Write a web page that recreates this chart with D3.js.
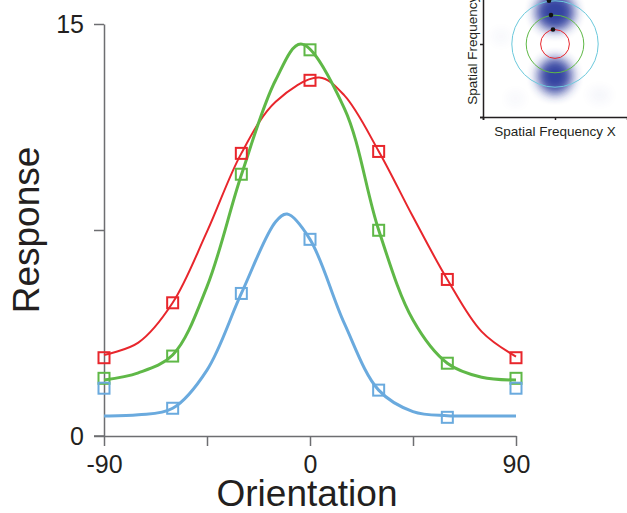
<!DOCTYPE html>
<html>
<head>
<meta charset="utf-8">
<script src="https://cdn.jsdelivr.net/npm/d3@7"></script>
<style>
  body { margin: 0; background: #fff; }
  svg { display: block; }
  text { font-family: "Liberation Sans", Arial, sans-serif; fill: #231f20; }
</style>
</head>
<body>
<div id="chart"></div>
<script>
// measured responses (squares), one per orientation
var orientations = [-90, -60, -30, 0, 30, 60, 90];
var redData   = [2.85, 4.85, 10.29, 12.95, 10.36, 5.70, 2.85];
var greenData = [2.10, 2.91, 9.53, 14.06, 7.49, 2.65, 2.10];
var blueData  = [1.74, 1.01, 5.19, 7.16, 1.67, 0.68, 1.74];

// fitted curves as [orientation, response]
var redFit = [[-90, 2.95], [-75, 3.4], [-60, 4.85], [-45, 7.44], [-30, 10.29], [-15, 12.17],
  [4, 13.05], [15, 12.4], [30, 10.37], [45, 7.98], [60, 5.70], [75, 3.80], [90, 2.89]];
var greenFit = [[-90, 2.04], [-75, 2.3], [-60, 2.95], [-45, 5.44], [-30, 9.50], [-15, 12.96],
  [-4, 14.27], [15, 11.93], [30, 7.50], [45, 4.22], [60, 2.65], [75, 2.14], [90, 2.04]];
var blueFit = [[-90, 0.73], [-75, 0.77], [-60, 1.01], [-45, 2.40], [-30, 5.19], [-15, 7.80],
  [-10, 8.08], [0, 7.16], [15, 4.10], [30, 1.67], [45, 0.89], [60, 0.74], [75, 0.73], [90, 0.73]];

var xTicks = [-90, -45, 0, 45, 90];
var xTickLabels = ["-90", "", "0", "", "90"];
var yTicks = [0, 7.5, 15];
var yTickLabels = ["0", "", "15"];

// inset: ring radii, dot tilt (deg from vertical), spectrum blobs [fx, fy, rx, ry, opacity]
var ringRadii = [0.2, 0.4, 0.6];
var dotTilt = 8;
var blobs = [[0, 0.44, 0.27, 0.26, 0.95], [0, -0.44, 0.24, 0.25, 0.95],
  [-0.75, 0.1, 0.12, 0.1, 0.04], [0.62, -0.7, 0.15, 0.1, 0.05], [-0.55, -0.75, 0.12, 0.1, 0.04]];

var series = [
  { data: redData, fit: redFit, color: "#e8262c", width: 2 },
  { data: greenData, fit: greenFit, color: "#5fb847", width: 3 },
  { data: blueData, fit: blueFit, color: "#6aaade", width: 3 }
];

var W = 627, H = 513;
var svg = d3.select("#chart").append("svg").attr("width", W).attr("height", H);

var x = d3.scaleLinear().domain([-90, 90]).range([104, 516]);
var y = d3.scaleLinear().domain([0, 15]).range([436, 24]);

// inset
var defs = svg.append("defs");
defs.append("clipPath").attr("id", "insetClip")
  .append("rect").attr("x", 484).attr("y", 0).attr("width", 143).attr("height", 116);
var blur = defs.append("filter").attr("id", "soft")
  .attr("x", "-60%").attr("y", "-60%").attr("width", "220%").attr("height", "220%");
blur.append("feGaussianBlur").attr("stdDeviation", 5.5);

var fx = d3.scaleLinear().domain([-1, 1]).range([483, 627]);
var fy = d3.scaleLinear().domain([-1, 1]).range([117, -29]);
var unit = fx(1) - fx(0);

var inset = svg.append("g").attr("clip-path", "url(#insetClip)");
inset.selectAll("ellipse").data(blobs).enter().append("ellipse")
  .attr("cx", function (d) { return fx(d[0]); })
  .attr("cy", function (d) { return fy(d[1]); })
  .attr("rx", function (d) { return d[2] * unit; })
  .attr("ry", function (d) { return d[3] * unit; })
  .attr("fill", "#2b3a9c")
  .attr("opacity", function (d) { return d[4]; })
  .attr("filter", "url(#soft)");

var ringColors = ["#e8262c", "#5fb847", "#6cc9dc"];
inset.selectAll("circle.ring").data(ringRadii).enter().append("circle")
  .attr("class", "ring")
  .attr("cx", fx(0)).attr("cy", fy(0))
  .attr("r", function (d) { return d * unit; })
  .attr("fill", "none")
  .attr("stroke", function (d, i) { return ringColors[i]; })
  .attr("stroke-width", 1);

var tilt = dotTilt * Math.PI / 180;
inset.selectAll("circle.dot").data(ringRadii).enter().append("circle")
  .attr("class", "dot")
  .attr("cx", function (d) { return fx(-d * Math.sin(tilt)); })
  .attr("cy", function (d) { return fy(d * Math.cos(tilt)); })
  .attr("r", 2.3)
  .attr("fill", "#111");

var insetAxisX = svg.append("g").attr("transform", "translate(0," + fy(-1) + ")")
  .call(d3.axisBottom(fx).tickValues([-1, 0]).tickSize(3).tickFormat(""));
var insetAxisY = svg.append("g").attr("transform", "translate(" + fx(-1) + ",0)")
  .call(d3.axisLeft(fy).tickValues([-1, 0]).tickSize(3).tickFormat(""));
[insetAxisX, insetAxisY].forEach(function (g) {
  g.selectAll("path, line").attr("stroke", "#231f20").attr("stroke-width", 1.5);
});

svg.append("text").attr("x", fx(0)).attr("y", 136)
  .attr("text-anchor", "middle").attr("font-size", 13.5)
  .text("Spatial Frequency X");
svg.append("text")
  .attr("transform", "translate(477," + fy(0) + ") rotate(-90)")
  .attr("text-anchor", "middle").attr("font-size", 13.5)
  .text("Spatial Frequency Y");

// main axes
var xAxis = svg.append("g").attr("transform", "translate(0," + y(0) + ")")
  .call(d3.axisBottom(x).tickValues(xTicks).tickSize(10).tickSizeOuter(0)
    .tickFormat(function (d, i) { return xTickLabels[i]; }));
xAxis.selectAll("text").attr("y", 19).attr("font-size", 25)
  .attr("font-family", "Liberation Sans, Arial, sans-serif").attr("fill", "#231f20");

var yAxis = svg.append("g").attr("transform", "translate(" + x(-90) + ",0)")
  .call(d3.axisLeft(y).tickValues(yTicks).tickSize(10).tickSizeOuter(0)
    .tickFormat(function (d, i) { return yTickLabels[i]; }));
yAxis.selectAll("text").attr("x", -20).attr("font-size", 25)
  .attr("font-family", "Liberation Sans, Arial, sans-serif").attr("fill", "#231f20");

[xAxis, yAxis].forEach(function (g) {
  g.selectAll("path, line").attr("stroke", "#6d6e71").attr("stroke-width", 1.5);
});
// x axis line continues under the y tick at 0
svg.append("line").attr("x1", x(-90) - 10).attr("x2", x(-90))
  .attr("y1", y(0)).attr("y2", y(0)).attr("stroke", "#6d6e71").attr("stroke-width", 1.5);

svg.append("text").attr("x", 307).attr("y", 506)
  .attr("text-anchor", "middle").attr("font-size", 37).text("Orientation");
svg.append("text")
  .attr("transform", "translate(39," + y(7.5) + ") rotate(-90)")
  .attr("text-anchor", "middle").attr("font-size", 37).text("Response");

// curves and squares
var line = d3.line()
  .x(function (d) { return x(d[0]); })
  .y(function (d) { return y(d[1]); })
  .curve(d3.curveCatmullRom.alpha(0.5));

var sq = 11;
series.forEach(function (s) {
  svg.append("path").datum(s.fit)
    .attr("d", line)
    .attr("fill", "none")
    .attr("stroke", s.color)
    .attr("stroke-width", s.width);
});
series.forEach(function (s) {
  svg.append("g").selectAll("rect").data(s.data).enter().append("rect")
    .attr("x", function (d, i) { return x(orientations[i]) - sq / 2; })
    .attr("y", function (d) { return y(d) - sq / 2; })
    .attr("width", sq).attr("height", sq)
    .attr("fill", "none")
    .attr("stroke", s.color)
    .attr("stroke-width", 2);
});
</script>
</body>
</html>
